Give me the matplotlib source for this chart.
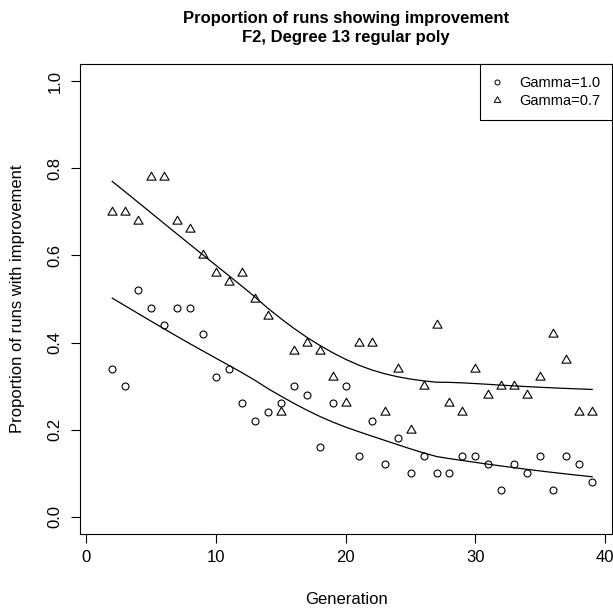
import numpy as np
import matplotlib
matplotlib.use("Agg")
import matplotlib.pyplot as plt
from matplotlib.path import Path
from matplotlib.lines import Line2D

plt.rcParams['font.family'] = ['Liberation Sans', 'DejaVu Sans']

generation = list(range(2, 40))
gamma_10 = [0.34, 0.30, 0.52, 0.48, 0.44, 0.48, 0.48, 0.42, 0.32, 0.34,
            0.26, 0.22, 0.24, 0.26, 0.30, 0.28, 0.16, 0.26, 0.30, 0.14,
            0.22, 0.12, 0.18, 0.10, 0.14, 0.10, 0.10, 0.14, 0.14, 0.12,
            0.06, 0.12, 0.10, 0.14, 0.06, 0.14, 0.12, 0.08]
gamma_07 = [0.70, 0.70, 0.68, 0.78, 0.78, 0.68, 0.66, 0.60, 0.56, 0.54,
            0.56, 0.50, 0.46, 0.24, 0.38, 0.40, 0.38, 0.32, 0.26, 0.40,
            0.40, 0.24, 0.34, 0.20, 0.30, 0.44, 0.26, 0.24, 0.34, 0.28,
            0.30, 0.30, 0.28, 0.32, 0.42, 0.36, 0.24, 0.24]
labels = ['Gamma=1.0', 'Gamma=0.7']


# same thing as R's lowess()
def lowess(x, y, f=2/3, iters=3):
    x = np.asarray(x, float)
    y = np.asarray(y, float)
    n = len(x)
    ns = max(2, min(n, int(f * n + 1e-7)))
    rng = x[-1] - x[0]
    rw = np.ones(n)
    ys = np.zeros(n)
    for it in range(iters + 1):
        nleft, nright = 0, ns - 1
        for i in range(n):
            while nright < n - 1:
                if x[i] - x[nleft] <= x[nright + 1] - x[i]:
                    break
                nleft += 1
                nright += 1
            xs = x[i]
            h = max(xs - x[nleft], x[nright] - xs)
            w = np.zeros(n)
            j = nleft
            while j < n:
                r = abs(x[j] - xs)
                if r <= 0.999 * h:
                    w[j] = 1.0 if r <= 0.001 * h else (1 - (r / h) ** 3) ** 3
                    if it > 0:
                        w[j] *= rw[j]
                elif x[j] > xs:
                    break
                j += 1
            nrt = j - 1
            a = w.sum()
            if a <= 0:
                ys[i] = y[i]
                continue
            w = w / a
            sl = slice(nleft, nrt + 1)
            if h > 0:
                a = np.sum(w[sl] * x[sl])
                b = xs - a
                c = np.sum(w[sl] * (x[sl] - a) ** 2)
                if np.sqrt(c) > 0.001 * rng:
                    b /= c
                    w[sl] = w[sl] * (b * (x[sl] - a) + 1)
            ys[i] = np.sum(w[sl] * y[sl])
        if it == iters:
            break
        res = y - ys
        ar = np.sort(np.abs(res))
        m1 = n // 2
        if n % 2 == 0:
            cmad = 3 * (ar[m1] + ar[n - m1 - 1])
        else:
            cmad = 6 * ar[m1]
        if cmad < 1e-7 * np.mean(np.abs(res)):
            break
        r = np.abs(res)
        rw = np.where(r <= 0.001 * cmad, 1.0,
                      np.where(r <= 0.999 * cmad, (1 - (r / cmad) ** 2) ** 2, 0.0))
    return x, ys


tri = Path([(0, 1), (0.866, -0.5), (-0.866, -0.5), (0, 1)],
           [Path.MOVETO, Path.LINETO, Path.LINETO, Path.CLOSEPOLY])

fig = plt.figure(figsize=(6.13, 6.10), dpi=100)
ax = fig.add_axes([80/613, 1 - 534/610, 532/613, (534 - 64)/610])

ax.plot(generation, gamma_10, linestyle='none', marker='o', ms=5.0,
        mfc='none', mec='black', mew=0.8)
ax.plot(generation, gamma_07, linestyle='none', marker=tri, ms=7.6,
        mfc='none', mec='black', mew=0.8)

lx, ly = lowess(generation, gamma_10)
ax.plot(lx, ly, color='black', lw=0.9)
lx, ly = lowess(generation, gamma_07)
ax.plot(lx, ly, color='black', lw=0.9)

ax.set_xlim(-0.49, 40.53)
ax.set_ylim(-0.04, 1.04)
ax.set_xticks([0, 10, 20, 30, 40])
ax.set_yticks([0.0, 0.2, 0.4, 0.6, 0.8, 1.0])
ax.set_yticklabels(['0.0', '0.2', '0.4', '0.6', '0.8', '1.0'],
                   rotation=90, va='center')
ax.tick_params(length=6.6, width=0.8, labelsize=12, pad=5)
ax.tick_params(axis='y', pad=6)
for s in ax.spines.values():
    s.set_linewidth(0.8)

handles = [Line2D([], [], linestyle='none', marker='o', ms=3.6, mfc='none',
                  mec='black', mew=0.7),
           Line2D([], [], linestyle='none', marker=tri, ms=5.5, mfc='none',
                  mec='black', mew=0.7)]
leg = ax.legend(handles, labels, loc='upper right', fontsize=10.5,
                borderaxespad=0, fancybox=False, framealpha=1,
                edgecolor='black', handlelength=0.73, handletextpad=1.14,
                labelspacing=0.3, borderpad=0.8)
leg.get_frame().set_linewidth(0.8)

fig.text(346/613, 1 - 22.5/610, 'Proportion of runs showing improvement',
         ha='center', va='baseline', fontsize=12, fontweight='bold')
fig.text(346/613, 1 - 42/610, 'F2, Degree 13 regular poly',
         ha='center', va='baseline', fontsize=12, fontweight='bold')
fig.text(346/613, 1 - 600/610, 'Generation', ha='center', va='center',
         fontsize=12)
fig.text(18/613, 1 - 299/610, 'Proportion of runs with improvement',
         ha='center', va='center', rotation=90, fontsize=12)

fig.savefig('out.png', dpi=100)
